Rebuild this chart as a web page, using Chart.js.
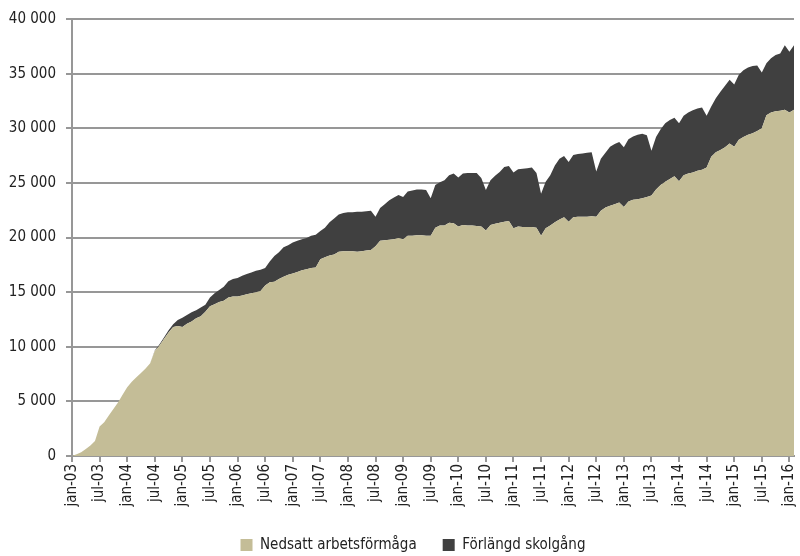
<!DOCTYPE html>
<html>
<head>
    <title>Nedsatt arbetsförmåga och förlängd skolgång</title>
    <script src="https://cdn.jsdelivr.net/npm/chart.js"></script>
    <style>
        body { margin: 0; background: #fff; }
        #wrap { width: 800px; height: 556px; }
    </style>
</head>
<body>
    <div id="wrap"><canvas id="areaChart"></canvas></div>

    <script>
        // monthly, jan-03 .. feb-16
        const monthNames = ['jan', 'feb', 'mar', 'apr', 'maj', 'jun', 'jul', 'aug', 'sep', 'okt', 'nov', 'dec'];
        const startYear = 2003;
        const monthCount = 158;

        const nedsatt = [
            0, 150, 350, 650, 950, 1380, 2700, 3100, 3700, 4300, 4900, 5600,
            6300, 6800, 7200, 7600, 8000, 8500, 9600, 10100, 10700, 11300, 11800, 11900,
            11800, 12100, 12300, 12600, 12800, 13200, 13700, 13900, 14100, 14200, 14500, 14600,
            14600, 14700, 14800, 14900, 15000, 15100, 15600, 15900, 15950, 16200, 16400, 16600,
            16700, 16850, 17000, 17100, 17200, 17250, 18000, 18200, 18350, 18450, 18700, 18750,
            18750, 18750, 18700, 18750, 18800, 18850, 19200, 19700, 19750, 19800, 19850, 19950,
            19850, 20150, 20150, 20200, 20200, 20150, 20150, 20900, 21100, 21100, 21350, 21300,
            21000, 21150, 21100, 21100, 21050, 21000, 20650, 21150, 21250, 21350, 21450, 21500,
            20850, 21000, 20950, 20950, 20950, 20900, 20150, 20850, 21100, 21400, 21650, 21850,
            21450, 21850, 21900, 21900, 21900, 21950, 21900, 22450, 22750, 22900, 23050, 23200,
            22800, 23300, 23450, 23500, 23600, 23700, 23850, 24400, 24800, 25100, 25350, 25600,
            25150, 25700, 25850, 25950, 26100, 26200, 26400, 27400, 27800, 28000, 28250, 28600,
            28300, 28950, 29200, 29400, 29550, 29750, 30000, 31200, 31450, 31550, 31600, 31700,
            31450, 31700
        ];

        const forlangd = [
            0, 0, 0, 0, 0, 0, 0, 0, 0, 0, 0, 0,
            0, 0, 0, 0, 0, 0, 50, 100, 150, 200, 250, 550,
            850, 800, 850, 750, 800, 650, 800, 1000, 1100, 1300, 1500, 1600,
            1700, 1800, 1850, 1900, 1950, 1950, 1600, 1900, 2350, 2450, 2700, 2700,
            2850, 2850, 2850, 2850, 2950, 3000, 2600, 2700, 3050, 3300, 3400, 3500,
            3550, 3550, 3650, 3600, 3600, 3600, 2700, 3000, 3300, 3600, 3800, 3950,
            3850, 4050, 4150, 4200, 4200, 4200, 3450, 3900, 3950, 4150, 4350, 4550,
            4500, 4700, 4800, 4800, 4850, 4450, 3700, 4100, 4400, 4650, 5000, 5050,
            5100, 5250, 5350, 5400, 5450, 5000, 3850, 4250, 4600, 5200, 5550, 5600,
            5450, 5700, 5750, 5800, 5850, 5850, 4150, 4750, 5000, 5400, 5500, 5550,
            5450, 5700, 5800, 5900, 5900, 5650, 4100, 4800, 5100, 5350, 5400, 5350,
            5300, 5450, 5600, 5700, 5700, 5700, 4750, 4600, 4950, 5350, 5650, 5850,
            5700, 5950, 6100, 6150, 6150, 6000, 5100, 4750, 4950, 5150, 5250, 5900,
            5550, 5900
        ];

        const yTicks = [0, 5000, 10000, 15000, 20000, 25000, 30000, 35000, 40000];

        const labels = [];
        for (let i = 0; i < monthCount; i++) {
            const yy = String((startYear + Math.floor(i / 12)) % 100).padStart(2, '0');
            labels.push(monthNames[i % 12] + '-' + yy);
        }

        const FONT = "'Liberation Sans Narrow', 'DejaVu Sans Condensed', 'Arial Narrow', sans-serif";
        const gridGray = '#979797';
        const legendPad = 26;

        function fmt(v) {
            return String(v).replace(/\B(?=(\d{3})+(?!\d))/g, ' ');
        }

        // move the legend row to where it sits in the original (y ~545, a bit right of centre)
        const legendShift = {
            id: 'legendShift',
            afterLayout(chart) {
                const lg = chart.legend;
                const dy = 545 - (lg.top + legendPad + 7.5);
                lg.top += dy;
                lg.bottom += dy;
                lg.left += 16;
                lg.right += 16;
            }
        };

        const ctx = document.getElementById('areaChart').getContext('2d');
        const chart = new Chart(ctx, {
            type: 'line',
            data: {
                labels: labels,
                datasets: [{
                    label: 'Nedsatt arbetsförmåga',
                    data: nedsatt,
                    backgroundColor: '#c4bd97',
                    borderColor: '#c4bd97',
                    borderWidth: 0,
                    pointRadius: 0,
                    tension: 0,
                    fill: 'origin'
                }, {
                    label: 'Förlängd skolgång',
                    data: forlangd,
                    backgroundColor: '#404040',
                    borderColor: '#404040',
                    borderWidth: 0,
                    pointRadius: 0,
                    tension: 0,
                    fill: '-1'
                }]
            },
            plugins: [legendShift],
            options: {
                responsive: true,
                maintainAspectRatio: false,
                animation: false,
                // legend is placed by the plugin, so the bottom padding only frees room for the x labels
                layout: { padding: { top: 16, right: 6, bottom: -8, left: 0 } },
                plugins: {
                    tooltip: { enabled: false },
                    legend: {
                        position: 'bottom',
                        labels: {
                            font: { family: FONT, size: 15 },
                            color: '#222',
                            boxWidth: 12,
                            boxHeight: 12,
                            padding: legendPad
                        }
                    }
                },
                scales: {
                    x: {
                        offset: false,
                        afterFit: function (s) {
                            s.height = 57;
                            s.paddingLeft = 0;
                            s.paddingRight = 0;
                        },
                        grid: {
                            drawOnChartArea: false,
                            color: gridGray,
                            lineWidth: 2,
                            tickLength: 6
                        },
                        border: { color: gridGray, width: 2 },
                        ticks: {
                            autoSkip: false,
                            minRotation: 90,
                            maxRotation: 90,
                            padding: 2,
                            color: '#222',
                            font: { family: FONT, size: 15 },
                            callback: function (val, i) {
                                return i % 6 === 0 ? labels[i] : null;
                            }
                        }
                    },
                    y: {
                        stacked: true,
                        min: 0,
                        max: 40000,
                        afterFit: function (s) { s.width = 72; },
                        afterBuildTicks: function (s) {
                            s.ticks = yTicks.map(v => ({ value: v }));
                        },
                        grid: {
                            color: gridGray,
                            lineWidth: 2,
                            tickLength: 6
                        },
                        border: { color: gridGray, width: 2 },
                        ticks: {
                            padding: 10,
                            color: '#222',
                            font: { family: FONT, size: 15 },
                            callback: v => fmt(v)
                        }
                    }
                }
            }
        });
    </script>
</body>
</html>
